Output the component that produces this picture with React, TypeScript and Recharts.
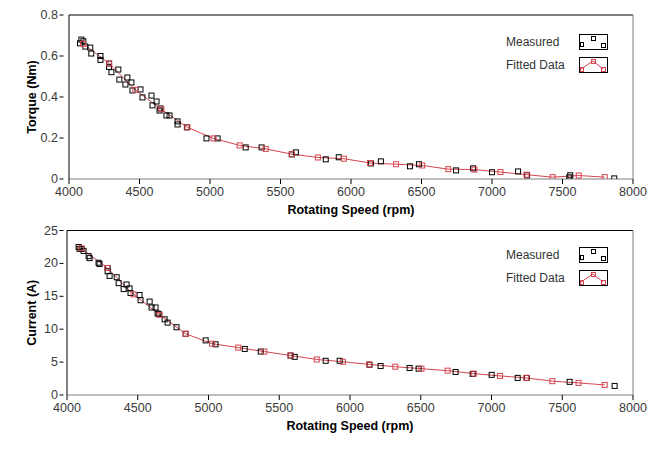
import React from "react";
import { ComposedChart, Line, Scatter, XAxis, YAxis, ReferenceLine, Legend } from "recharts";

const speedTicks = [4000, 4500, 5000, 5500, 6000, 6500, 7000, 7500, 8000];
const torqueTicks = [0, 0.2, 0.4, 0.6, 0.8];
const currentTicks = [0, 5, 10, 15, 20, 25];

const torqueSpeed = [4078, 4088, 4102, 4116, 4151, 4158, 4223, 4223, 4284, 4284, 4301, 4350, 4357, 4400, 4414, 4443, 4450, 4507, 4521, 4585, 4592, 4621, 4642, 4649, 4691, 4713, 4770, 4770, 4836, 4975, 5054, 5253, 5366, 5580, 5609, 5821, 5913, 6141, 6212, 6418, 6482, 6745, 6866, 7000, 7185, 7249, 7548, 7555, 7867];
const torqueMeasured = [0.662, 0.68, 0.672, 0.646, 0.641, 0.612, 0.6, 0.581, 0.563, 0.547, 0.521, 0.534, 0.485, 0.461, 0.495, 0.471, 0.432, 0.437, 0.398, 0.407, 0.359, 0.378, 0.334, 0.344, 0.31, 0.31, 0.281, 0.266, 0.252, 0.198, 0.198, 0.154, 0.154, 0.12, 0.13, 0.096, 0.106, 0.076, 0.086, 0.062, 0.072, 0.042, 0.052, 0.033, 0.037, 0.018, 0.008, 0.018, 0.003];

const currentSpeed = [4082, 4089, 4103, 4117, 4153, 4160, 4223, 4230, 4287, 4287, 4301, 4351, 4365, 4400, 4421, 4442, 4449, 4513, 4520, 4584, 4598, 4626, 4640, 4648, 4690, 4711, 4774, 4838, 4980, 5050, 5256, 5369, 5580, 5609, 5828, 5927, 6138, 6216, 6421, 6485, 6746, 6867, 7001, 7185, 7249, 7552, 7870];
const currentMeasured = [22.5, 22.2, 22.2, 21.9, 21.1, 20.8, 20.1, 19.9, 19.3, 18.8, 18.1, 17.9, 17.0, 16.1, 16.8, 16.2, 15.5, 15.2, 14.4, 14.2, 13.3, 13.3, 12.4, 12.3, 11.5, 11.0, 10.3, 9.3, 8.3, 7.7, 7.0, 6.6, 6.0, 5.8, 5.2, 5.2, 4.6, 4.4, 4.1, 4.0, 3.5, 3.2, 3.06, 2.6, 2.6, 2.0, 1.38];

const fittedSpeed = [4100, 4285, 4470, 4655, 4840, 5025, 5210, 5395, 5580, 5765, 5950, 6135, 6320, 6505, 6690, 6875, 7060, 7245, 7430, 7615, 7800];
const torqueFitted = [0.66, 0.563, 0.435, 0.34, 0.252, 0.198, 0.164, 0.147, 0.121, 0.105, 0.099, 0.078, 0.072, 0.066, 0.048, 0.046, 0.034, 0.021, 0.009, 0.017, 0.009];
const currentFitted = [22.3, 19.3, 15.3, 12.2, 9.3, 7.8, 7.2, 6.6, 6.0, 5.4, 5.05, 4.65, 4.3, 4.0, 3.7, 3.25, 2.9, 2.6, 2.1, 1.84, 1.53];

const FONT = "'Liberation Sans', Arial, sans-serif";
const RED = "#d4454f";
const TICK_COLOR = "#3a3a3a";

const zip = (xs: number[], ys: number[]) => xs.map((x, i) => ({ x, y: ys[i] }));

const squareShape = (color: string) => (props: any) => {
  const { cx, cy } = props;
  if (cx == null || cy == null) return <g />;
  return <rect x={cx - 2.5} y={cy - 2.5} width={5} height={5} fill="none" stroke={color} strokeWidth={1} />;
};

const lineDot = (props: any) => {
  const { cx, cy, index } = props;
  return <rect key={"d" + index} x={cx - 2.5} y={cy - 2.5} width={5} height={5} fill="none" stroke={RED} strokeWidth={1} />;
};

const LegendBox = () => (
  <div style={{ fontFamily: FONT, fontSize: 12, color: "#333" }}>
    {[
      { label: "Measured", kind: "m" },
      { label: "Fitted Data", kind: "f" },
    ].map((it) => (
      <div key={it.label} style={{ display: "flex", alignItems: "center", height: 23 }}>
        <span style={{ width: 73, whiteSpace: "nowrap" }}>{it.label}</span>
        <svg width={30} height={16} style={{ display: "block" }}>
          <rect x={0.5} y={0.5} width={28} height={15} fill="#fff" stroke="#000" />
          {it.kind === "m" ? (
            <g fill="none" stroke="#000">
              <rect x={1.5} y={8.5} width={3} height={4} />
              <rect x={12.5} y={2.5} width={4} height={4} />
              <rect x={22.5} y={9.5} width={4} height={4} />
            </g>
          ) : (
            <g fill="none" stroke={RED}>
              <polyline points="2,12 14,4 24,12" />
              <rect x={1.5} y={10.5} width={3} height={4} />
              <rect x={12.5} y={2.5} width={4} height={4} />
              <rect x={22.5} y={10.5} width={4} height={4} />
            </g>
          )}
        </svg>
      </div>
    ))}
  </div>
);

const xLabel = (props: any) => {
  const vb = props.viewBox;
  return (
    <text x={vb.x + vb.width / 2} y={vb.y + 31} textAnchor="middle" dominantBaseline="central" fontFamily={FONT} fontSize={12.5} fontWeight="bold" fill="#000">
      Rotating Speed (rpm)
    </text>
  );
};

const yLabel = (text: string) => (props: any) => {
  const vb = props.viewBox;
  const cx = 32;
  const cy = vb.y + vb.height / 2;
  return (
    <text x={cx} y={cy} textAnchor="middle" dominantBaseline="central" transform={`rotate(-90 ${cx} ${cy})`} fontFamily={FONT} fontSize={12.5} fontWeight="bold" fill="#000">
      {text}
    </text>
  );
};

const yTick = (props: any) => {
  const { x, y, payload } = props;
  return (
    <g>
      <text x={x} y={y} textAnchor="end" dominantBaseline="central" fontFamily={FONT} fontSize={12.5} fill={TICK_COLOR}>
        {String(payload.value)}
      </text>
      <line x1={x + 1.5} x2={x + 5.5} y1={y} y2={y} stroke="#000" />
    </g>
  );
};

type PanelProps = {
  height: number;
  marginTop: number;
  marginBottom: number;
  yWidth: number;
  yMax: number;
  yTicks: number[];
  yTitle: string;
  measured: { x: number; y: number }[];
  fitted: { x: number; y: number }[];
  legendTop: number;
};

const Panel = (p: PanelProps) => (
  <ComposedChart width={662} height={p.height} margin={{ top: p.marginTop, right: 29, bottom: p.marginBottom, left: 0 }}>
    <XAxis
      type="number"
      dataKey="x"
      domain={[4000, 8000]}
      ticks={speedTicks}
      allowDataOverflow
      height={41}
      axisLine={{ stroke: "#808080" }}
      tickLine={{ stroke: "#000" }}
      tickSize={5}
      tickMargin={3}
      tick={{ fill: TICK_COLOR, fontSize: 12.5, fontFamily: FONT }}
      label={xLabel}
    />
    <YAxis
      type="number"
      dataKey="y"
      domain={[0, p.yMax]}
      ticks={p.yTicks}
      allowDataOverflow
      width={p.yWidth}
      axisLine={{ stroke: "#000" }}
      tickLine={false}
      tickSize={0}
      tickMargin={p.yWidth - 58}
      tick={yTick}
      label={yLabel(p.yTitle)}
    />
    <ReferenceLine y={p.yMax} stroke="#000" />
    <ReferenceLine x={8000} stroke="#808080" />
    <Line data={p.fitted} dataKey="y" type="linear" stroke={RED} strokeWidth={1} dot={lineDot} activeDot={false} isAnimationActive={false} legendType="none" />
    <Scatter data={p.measured} dataKey="y" shape={squareShape("#000")} isAnimationActive={false} legendType="none" />
    <Legend
      layout="vertical"
      align="center"
      verticalAlign="middle"
      wrapperStyle={{ top: p.legendTop, left: 506, width: 110, height: 46 }}
      content={() => <LegendBox />}
    />
  </ComposedChart>
);

export default function App() {
  return (
    <div style={{ position: "absolute", left: 0, top: 0, width: 662, height: 449, background: "#fff" }}>
      <div style={{ position: "absolute", left: 0, top: 0 }}>
        <Panel
          height={220}
          marginTop={15}
          marginBottom={0}
          yWidth={69}
          yMax={0.8}
          yTicks={torqueTicks}
          yTitle="Torque (Nm)"
          measured={zip(torqueSpeed, torqueMeasured)}
          fitted={zip(fittedSpeed, torqueFitted)}
          legendTop={30.5}
        />
      </div>
      <div style={{ position: "absolute", left: 0, top: 220 }}>
        <Panel
          height={229}
          marginTop={10.5}
          marginBottom={13}
          yWidth={67}
          yMax={25}
          yTicks={currentTicks}
          yTitle="Current (A)"
          measured={zip(currentSpeed, currentMeasured)}
          fitted={zip(fittedSpeed, currentFitted)}
          legendTop={23.5}
        />
      </div>
    </div>
  );
}
